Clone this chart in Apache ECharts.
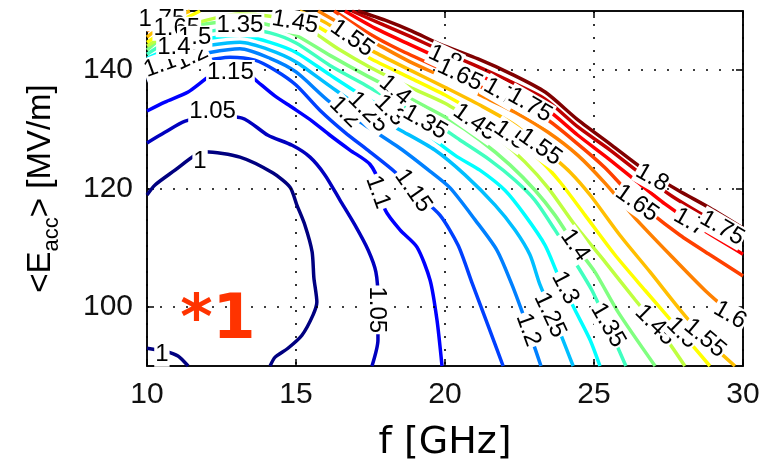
<!DOCTYPE html>
<html><head><meta charset="utf-8">
<script src="https://cdn.jsdelivr.net/npm/echarts@6/dist/echarts.min.js"></script>
<style>html,body{margin:0;padding:0;background:#fff}#c{width:759px;height:476px}</style>
</head><body><div id="c"></div>
<script>
// ---- axis ticks ----
const xTicks = [10, 15, 20, 25, 30];
const yTicks = [100, 120, 140];

// ---- contour lines, [f (GHz), Eacc (MV/m)] ----
const c100  = [[10,118.9],[10.27,120.6],[10.94,123.1],[11.61,125.6],[11.95,126.2],[13.12,125.3],[14.23,122.6],[14.8,120.2],[15.03,117.2],[15.3,113.8],[15.54,109.3],[15.6,104.9],[15.7,100.8],[15.57,98.6],[15.2,95.2],[14.73,93.0],[14.3,91.5],[14.13,90]];
const c100b = [[10,93.0],[10.6,92.5],[11.04,91.7],[11.38,90]];
const c105  = [[10,127.7],[10.6,129.5],[11.28,131.4],[12.21,132.2],[13.19,131.9],[14.06,129.0],[14.87,127.3],[15.47,125.3],[15.97,122.3],[16.48,118.0],[16.98,113.8],[17.42,109.6],[17.68,105.9],[17.75,101.2],[17.75,94.4],[17.55,90]];
const c110  = [[10,133.1],[10.6,134.6],[11.38,136.3],[12.11,139.0],[12.72,140.3],[13.29,139.8],[13.72,138.0],[14.3,135.6],[14.9,133.6],[15.54,131.4],[16.14,129.0],[16.81,126.5],[17.48,124.1],[17.82,120.6],[17.99,116.4],[18.49,113.0],[19.06,110.1],[19.5,104.5],[19.73,97.8],[19.9,90]];
const c115  = [[10,138.3],[10.77,140.0],[11.78,141.4],[12.79,142.2],[13.62,141.7],[14.3,140.0],[15.0,137.5],[15.81,133.2],[16.64,129.5],[17.48,126.2],[18.32,122.8],[18.99,119.4],[19.83,115.5],[20.44,110.4],[20.91,104.0],[21.44,96.9],[21.95,90]];
const c120  = [[10,140.0],[11.11,141.9],[12.11,143.0],[13.12,143.6],[14.13,142.0],[15.0,139.7],[16.14,134.6],[17.32,130.7],[18.49,126.8],[19.5,122.9],[20.17,120.1],[21.01,114.7],[21.74,109.6],[22.25,103.7],[22.75,96.9],[23.22,90]];
const c125  = [[10,141.2],[11.11,143.2],[12.11,144.2],[13.12,144.7],[14.13,143.4],[15.0,141.4],[16.14,137.3],[17.32,133.2],[18.49,129.9],[19.66,126.5],[20.67,122.3],[21.68,117.2],[22.35,113.0],[22.85,108.8],[23.19,103.7],[23.69,97.8],[24.3,90]];
const c130  = [[10,142.0],[11.11,144.4],[12.11,145.4],[13.12,145.9],[14.13,144.7],[15.0,143.0],[16.14,139.2],[17.32,135.4],[18.32,132.7],[19.33,129.4],[20.34,125.6],[21.17,123.1],[22.01,119.7],[22.68,115.5],[23.36,110.4],[23.79,105.4],[24.36,99.5],[24.87,94.4],[25.2,90]];
const c135  = [[10,142.7],[10.94,145.4],[12.11,146.6],[13.12,147.1],[14.13,146.3],[15.0,144.6],[16.14,140.8],[17.32,137.5],[18.49,134.1],[19.5,131.6],[20.5,128.2],[21.51,124.8],[22.35,121.4],[23.02,118.0],[23.69,113.0],[24.36,107.6],[24.93,102.8],[25.47,96.9],[26.07,90]];
const c140  = [[10,143.4],[10.77,146.4],[11.95,147.8],[13.12,148.3],[14.13,147.6],[15.0,145.9],[16.14,142.5],[17.32,139.2],[18.32,136.6],[19.33,133.9],[20.17,131.6],[21.17,128.2],[22.18,124.0],[23.02,119.7],[23.69,115.5],[24.36,110.4],[25.03,105.9],[25.81,99.1],[27.05,90]];
const c145  = [[10,144.1],[11.11,147.1],[12.28,148.8],[13.12,149.5],[14.13,149.1],[15.13,147.8],[16.48,143.4],[17.48,140.5],[18.83,137.1],[20.0,134.4],[21.01,131.2],[21.85,128.2],[22.68,124.5],[23.46,120.1],[24.36,113.8],[25.37,107.6],[26.38,101.2],[27.21,96.1],[28.05,90]];
const c150a = [[10,144.7],[10.94,147.8],[11.78,150]];
const c150b = [[14.53,150],[15.13,149.1],[16.48,145.1],[17.48,142.0],[18.83,138.7],[20.0,135.8],[21.17,132.4],[22.18,129.0],[23.19,124.8],[23.86,121.1],[24.7,115.5],[25.7,108.8],[26.71,102.8],[27.72,96.9],[28.89,90]];
const c155a = [[10,145.6],[10.77,148.5],[11.44,150]];
const c155b = [[15.13,150],[15.97,148.1],[16.81,145.4],[17.65,143.0],[18.83,140.0],[20.0,137.1],[21.17,134.1],[22.35,130.7],[23.36,126.5],[24.19,122.8],[24.87,118.9],[25.87,112.1],[26.88,105.9],[27.89,99.5],[28.72,94.7],[29.73,90]];
const c160a = [[10,146.6],[10.6,148.8],[11.04,150]];
const c160b = [[15.74,150],[16.64,147.4],[17.65,144.6],[18.83,141.4],[20.0,138.7],[21.17,135.8],[22.35,132.9],[23.46,129.5],[24.46,125.6],[25.37,120.9],[26.38,115.0],[27.55,108.8],[28.72,102.8],[29.56,99.1],[30,97.4]];
const c165a = [[10,147.4],[10.44,148.9],[10.77,150]];
const c165b = [[16.28,150],[17.42,146.3],[18.49,143.4],[19.83,140.3],[21.01,137.6],[22.18,134.9],[23.36,131.9],[24.46,127.5],[25.37,123.5],[26.14,119.4],[26.88,116.0],[27.89,112.1],[28.89,108.8],[30,105.2]];
const c170a = [[10,148.3],[10.3,149.5],[10.5,150]];
const c170b = [[16.64,150],[17.65,147.1],[18.66,144.7],[19.83,142.0],[21.01,139.5],[22.18,136.6],[23.36,133.6],[24.46,129.0],[25.47,125.1],[26.38,121.4],[27.38,117.4],[28.56,113.3],[30,108.9]];
const c175a = [[10,148.95],[10.17,149.6],[10.27,150]];
const c175b = [[16.88,150],[17.82,147.9],[18.83,145.7],[19.83,143.4],[21.01,140.8],[22.18,138.1],[23.36,135.1],[24.46,130.4],[25.54,126.5],[26.54,122.6],[27.62,118.7],[28.72,115.3],[30,111.3]];
const c180a = [[10,149.6],[10.1,150]];
const c180b = [[17.08,150],[17.99,148.45],[18.89,146.6],[19.83,144.4],[21.11,141.9],[22.25,139.3],[23.36,136.3],[24.46,131.6],[25.6,127.3],[26.71,123.1],[27.82,119.7],[28.89,116.7],[30,113.3]];

// ---- contour labels: [text, f, Eacc, angle] ----
const contourLabels = [
  ['1', 11.78, 124.6, 0], ['1', 10.5, 91.9, 0],
  ['1.05', 12.2, 133.1, 0], ['1.05', 17.72, 99.5, -90],
  ['1.1', 17.75, 119.4, -70], ['1.15', 18.93, 119.6, -55],
  ['1.1', 10.45, 140.8, 20], ['1.15', 12.8, 139.7, 0], ['1.2', 11.5, 142.2, 25],
  ['1.35', 13.12, 147.6, 0], ['1.45', 14.97, 148.1, -10], ['1.55', 16.88, 145.4, -35],
  ['1.75', 10.5, 148.6, 0], ['1.65', 11.0, 147.0, 0], ['1.5', 11.6, 145.5, 0], ['1.4', 10.9, 143.9, 0],
  ['1.8', 20.0, 142.0, -25], ['1.65', 20.5, 139.2, -25], ['1.7', 21.85, 136.3, -30], ['1.75', 22.85, 134.1, -30],
  ['1.4', 18.32, 136.6, -40], ['1.2', 16.64, 132.9, -45], ['1.25', 17.42, 132.9, -45], ['1.3', 18.15, 133.2, -45],
  ['1.35', 19.33, 131.2, -30], ['1.45', 21.0, 131.2, -35], ['1.5', 22.18, 129.0, -35], ['1.55', 23.19, 127.0, -35],
  ['1.4', 24.36, 110.4, -55], ['1.3', 24.03, 103.2, -62], ['1.25', 23.52, 98.6, -65], ['1.2', 22.79, 96.1, -70],
  ['1.35', 25.47, 96.9, -60], ['1.45', 27.05, 96.9, -45], ['1.5', 27.95, 95.6, -45], ['1.55', 28.72, 94.7, -40],
  ['1.6', 29.56, 98.6, -30], ['1.8', 26.95, 121.8, -30], ['1.65', 26.44, 117.5, -35],
  ['1.7', 28.22, 114.3, -30], ['1.75', 29.3, 113.3, -30]
];
const annotation = ['*1', 12.38, 97.4];

// ---- styling ----
const levelColor = {
  '1.00':'#000080','1.05':'#0000BF','1.10':'#0000FF','1.15':'#0040FF','1.20':'#0080FF',
  '1.25':'#00BFFF','1.30':'#00FFFF','1.35':'#40FFBF','1.40':'#80FF80','1.45':'#BFFF40',
  '1.50':'#FFFF00','1.55':'#FFBF00','1.60':'#FF8000','1.65':'#FF4000','1.70':'#FF0000',
  '1.75':'#BF0000','1.80':'#800000'
};
const contours = [
  [1.00,c100],[1.00,c100b],[1.05,c105],[1.10,c110],[1.15,c115],[1.20,c120],[1.25,c125],
  [1.30,c130],[1.35,c135],[1.40,c140],[1.45,c145],[1.50,c150a],[1.50,c150b],[1.55,c155a],[1.55,c155b],
  [1.60,c160a],[1.60,c160b],[1.65,c165a],[1.65,c165b],[1.70,c170a],[1.70,c170b],
  [1.75,c175a],[1.75,c175b],[1.80,c180a],[1.80,c180b]
];

const chart = echarts.init(document.getElementById('c'), null, {renderer:'canvas'});
const font = "'Liberation Sans', Arial, sans-serif";
const dotted = {type:[2,11], color:'#000', width:1.6};

const series = contours.map(([lv, pts]) => ({
  type:'line', data:pts, symbol:'none', smooth:0.25, silent:true, z:2,
  lineStyle:{color:levelColor[lv.toFixed(2)], width:3.5}
}));
series.push({
  type:'line', data:[], symbol:'none', silent:true,
  markLine:{silent:true, symbol:'none', label:{show:false}, lineStyle:dotted,
    data: yTicks.map(v => ({yAxis:v}))}
});
series.push({
  type:'scatter', symbolSize:0, silent:true, z:5,
  itemStyle:{opacity:1},
  data: contourLabels.map(([t,f,e,r]) => ({value:[f,e], label:{formatter:t, rotate:r}})),
  label:{show:true, position:'inside', color:'#000', opacity:1, fontSize:24, fontFamily:font,
    backgroundColor:'#fff', padding:[0,1]}
});
series.push({
  type:'scatter', symbolSize:0, silent:true, z:6,
  itemStyle:{opacity:1},
  data:[{value:[annotation[1], annotation[2]]}],
  label:{show:true, position:'inside', formatter:annotation[0], color:'#FF3300', opacity:1,
    fontSize:62, fontWeight:'bold', fontFamily:"'DejaVu Sans', sans-serif"}
});

chart.setOption({
  animation:false,
  backgroundColor:'#fff',
  grid:{left:147, right:16, top:11, bottom:110, containLabel:false, outerBoundsMode:'none',
    show:true, borderColor:'#000', borderWidth:1.5, backgroundColor:'#fff'},
  xAxis:[{
    type:'value', min:10, max:30, interval:5, position:'bottom',
    axisLine:{show:true, lineStyle:{color:'#000', width:1.5}},
    axisTick:{show:true, inside:true, length:7, lineStyle:{color:'#000', width:1.5}},
    axisLabel:{color:'#111', fontSize:30, fontFamily:font, margin:14,
      formatter: v => xTicks.includes(v) ? String(v) : ''},
    splitLine:{show:true, lineStyle:dotted},
    name:'f [GHz]', nameLocation:'middle', nameGap:58,
    nameTextStyle:{fontSize:38, color:'#000', fontFamily:"'DejaVu Sans', sans-serif"}
  },{
    type:'value', min:10, max:30, interval:5, position:'top',
    axisLine:{show:true, lineStyle:{color:'#000', width:1.5}},
    axisTick:{show:true, inside:true, length:7, lineStyle:{color:'#000', width:1.5}},
    axisLabel:{show:false}, splitLine:{show:false}
  }],
  yAxis:[{
    type:'value', min:90, max:150, position:'left',
    axisLine:{show:true, lineStyle:{color:'#000', width:1.5}},
    axisTick:{show:true, inside:true, length:7, customValues:yTicks, lineStyle:{color:'#000', width:1.5}},
    axisLabel:{color:'#111', fontSize:30, fontFamily:font, margin:14, customValues:yTicks},
    splitLine:{show:false},
    name:'<E{sub|acc}> [MV/m]', nameLocation:'middle', nameGap:88, nameRotate:90,
    nameTextStyle:{fontSize:33, color:'#000', fontFamily:font, lineHeight:36,
      rich:{sub:{fontSize:22, fontFamily:font, color:'#000', lineHeight:22, padding:[22,0,0,0]}}}
  },{
    type:'value', min:90, max:150, position:'right',
    axisLine:{show:true, lineStyle:{color:'#000', width:1.5}},
    axisTick:{show:true, inside:true, length:7, customValues:yTicks, lineStyle:{color:'#000', width:1.5}},
    axisLabel:{show:false}, splitLine:{show:false}
  }],
  series: series
});
</script>
</body></html>
